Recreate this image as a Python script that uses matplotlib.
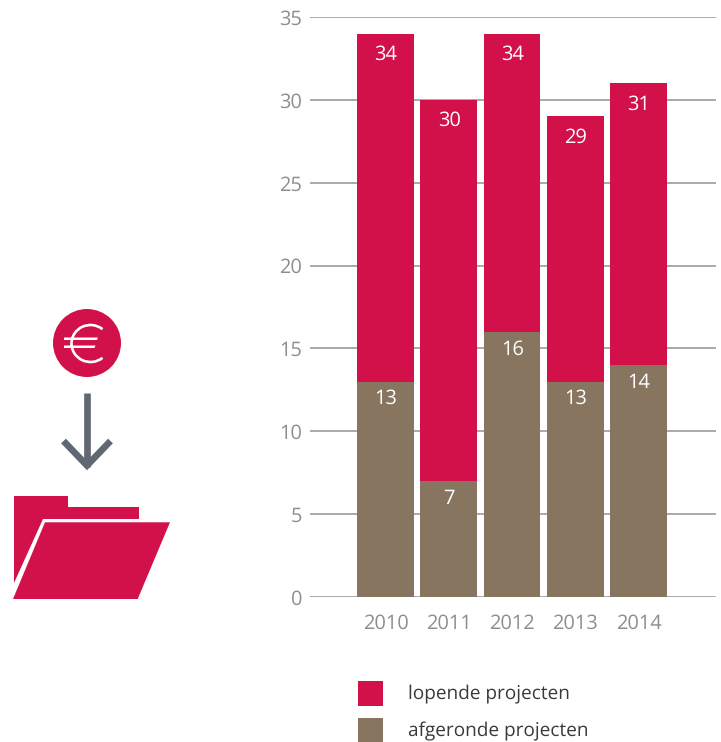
import matplotlib
matplotlib.use("Agg")
import matplotlib.pyplot as plt
from matplotlib.patches import Arc, Circle, Polygon, Rectangle

plt.rcParams["font.family"] = ["Open Sans", "DejaVu Sans"]
plt.rcParams["text.hinting"] = "no_hinting"
plt.rcParams["text.hinting_factor"] = 1

years = ["2010", "2011", "2012", "2013", "2014"]
lopende = [34, 30, 34, 29, 31]
afgeronde = [13, 7, 16, 13, 14]
y_ticks = [0, 5, 10, 15, 20, 25, 30, 35]
legend_labels = ["lopende projecten", "afgeronde projecten"]

CRIMSON = "#D2104A"
BROWN = "#887560"
GRID = "#9C9C9C"
TICK_TEXT = "#8E8E8E"
ARROW = "#616871"
W, H = 721, 742

fig = plt.figure(figsize=(W / 100, H / 100), dpi=100, facecolor="white")

# Bar panel
ax = fig.add_axes([310 / W, (H - 597) / H, 406 / W, 580 / H])
ax.set_ylim(0, 35)
ax.set_xlim(-1.194, 5.225)
ax.set_axisbelow(True)
ax.yaxis.grid(True, color=GRID, linewidth=1.2)
ax.xaxis.grid(False)
for spine in ax.spines.values():
    spine.set_visible(False)

xs = range(len(years))
ax.bar(xs, lopende, width=0.9, color=CRIMSON, zorder=2)
ax.bar(xs, afgeronde, width=0.9, color=BROWN, zorder=3)

# Value labels sit just inside the top of each bar
for x, total, done in zip(xs, lopende, afgeronde):
    ax.annotate(str(total), (x, total), xytext=(0.5, -21), textcoords="offset pixels",
                ha="center", va="center", color="white", fontsize=14.2, zorder=4)
    ax.annotate(str(done), (x, done), xytext=(0.5, -17.5), textcoords="offset pixels",
                ha="center", va="center", color="white", fontsize=14.2, zorder=4)

ax.set_yticks(y_ticks)
ax.set_xticks(list(xs), years)
ax.tick_params(axis="y", length=0, pad=5.5, labelcolor=TICK_TEXT, labelsize=14.2)
ax.tick_params(axis="x", length=0, pad=12, labelcolor=TICK_TEXT, labelsize=14.2)

# Overlay in pixel coordinates for the legend and the pictogram
ov = fig.add_axes([0, 0, 1, 1], facecolor="none")
ov.set_xlim(0, W)
ov.set_ylim(H, 0)
ov.axis("off")

for top, color, label, ty in zip([681, 718], [CRIMSON, BROWN], legend_labels, [695, 731]):
    ov.add_patch(Rectangle((358, top), 25, 25, facecolor=color, edgecolor="none"))
    ov.text(408.5, ty, label, ha="left", va="center", color="#3A3A3A", fontsize=14)

# Euro coin
ov.add_patch(Circle((87, 343), 34, facecolor=CRIMSON, edgecolor="none"))
ov.add_patch(Arc((90.5, 343.5), 38, 37, theta1=50, theta2=310, edgecolor="white", linewidth=1.9))
ov.add_patch(Polygon([(64, 337.5), (98, 337.5), (97, 340), (64, 340)], facecolor="white", edgecolor="none"))
ov.add_patch(Polygon([(64, 345.5), (95.5, 345.5), (94.5, 348), (64, 348)], facecolor="white", edgecolor="none"))

# Downward arrow
ov.plot([87, 87], [393, 467], color=ARROW, lw=4.8, solid_capstyle="butt")
ov.plot([63.5, 87, 110.5], [441, 465.5, 441], color=ARROW, lw=4.8,
        solid_joinstyle="miter", solid_capstyle="butt")

# Folder
ov.add_patch(Polygon([(14, 496), (68, 496), (68, 507), (139, 507), (139, 519),
                      (43, 519), (14, 583)], facecolor=CRIMSON, edgecolor="none"))
ov.add_patch(Polygon([(45, 522.3), (170, 522.3), (137.7, 599), (13, 599)],
                     facecolor=CRIMSON, edgecolor="none"))

fig.savefig("out.png", dpi=100, facecolor="white")
